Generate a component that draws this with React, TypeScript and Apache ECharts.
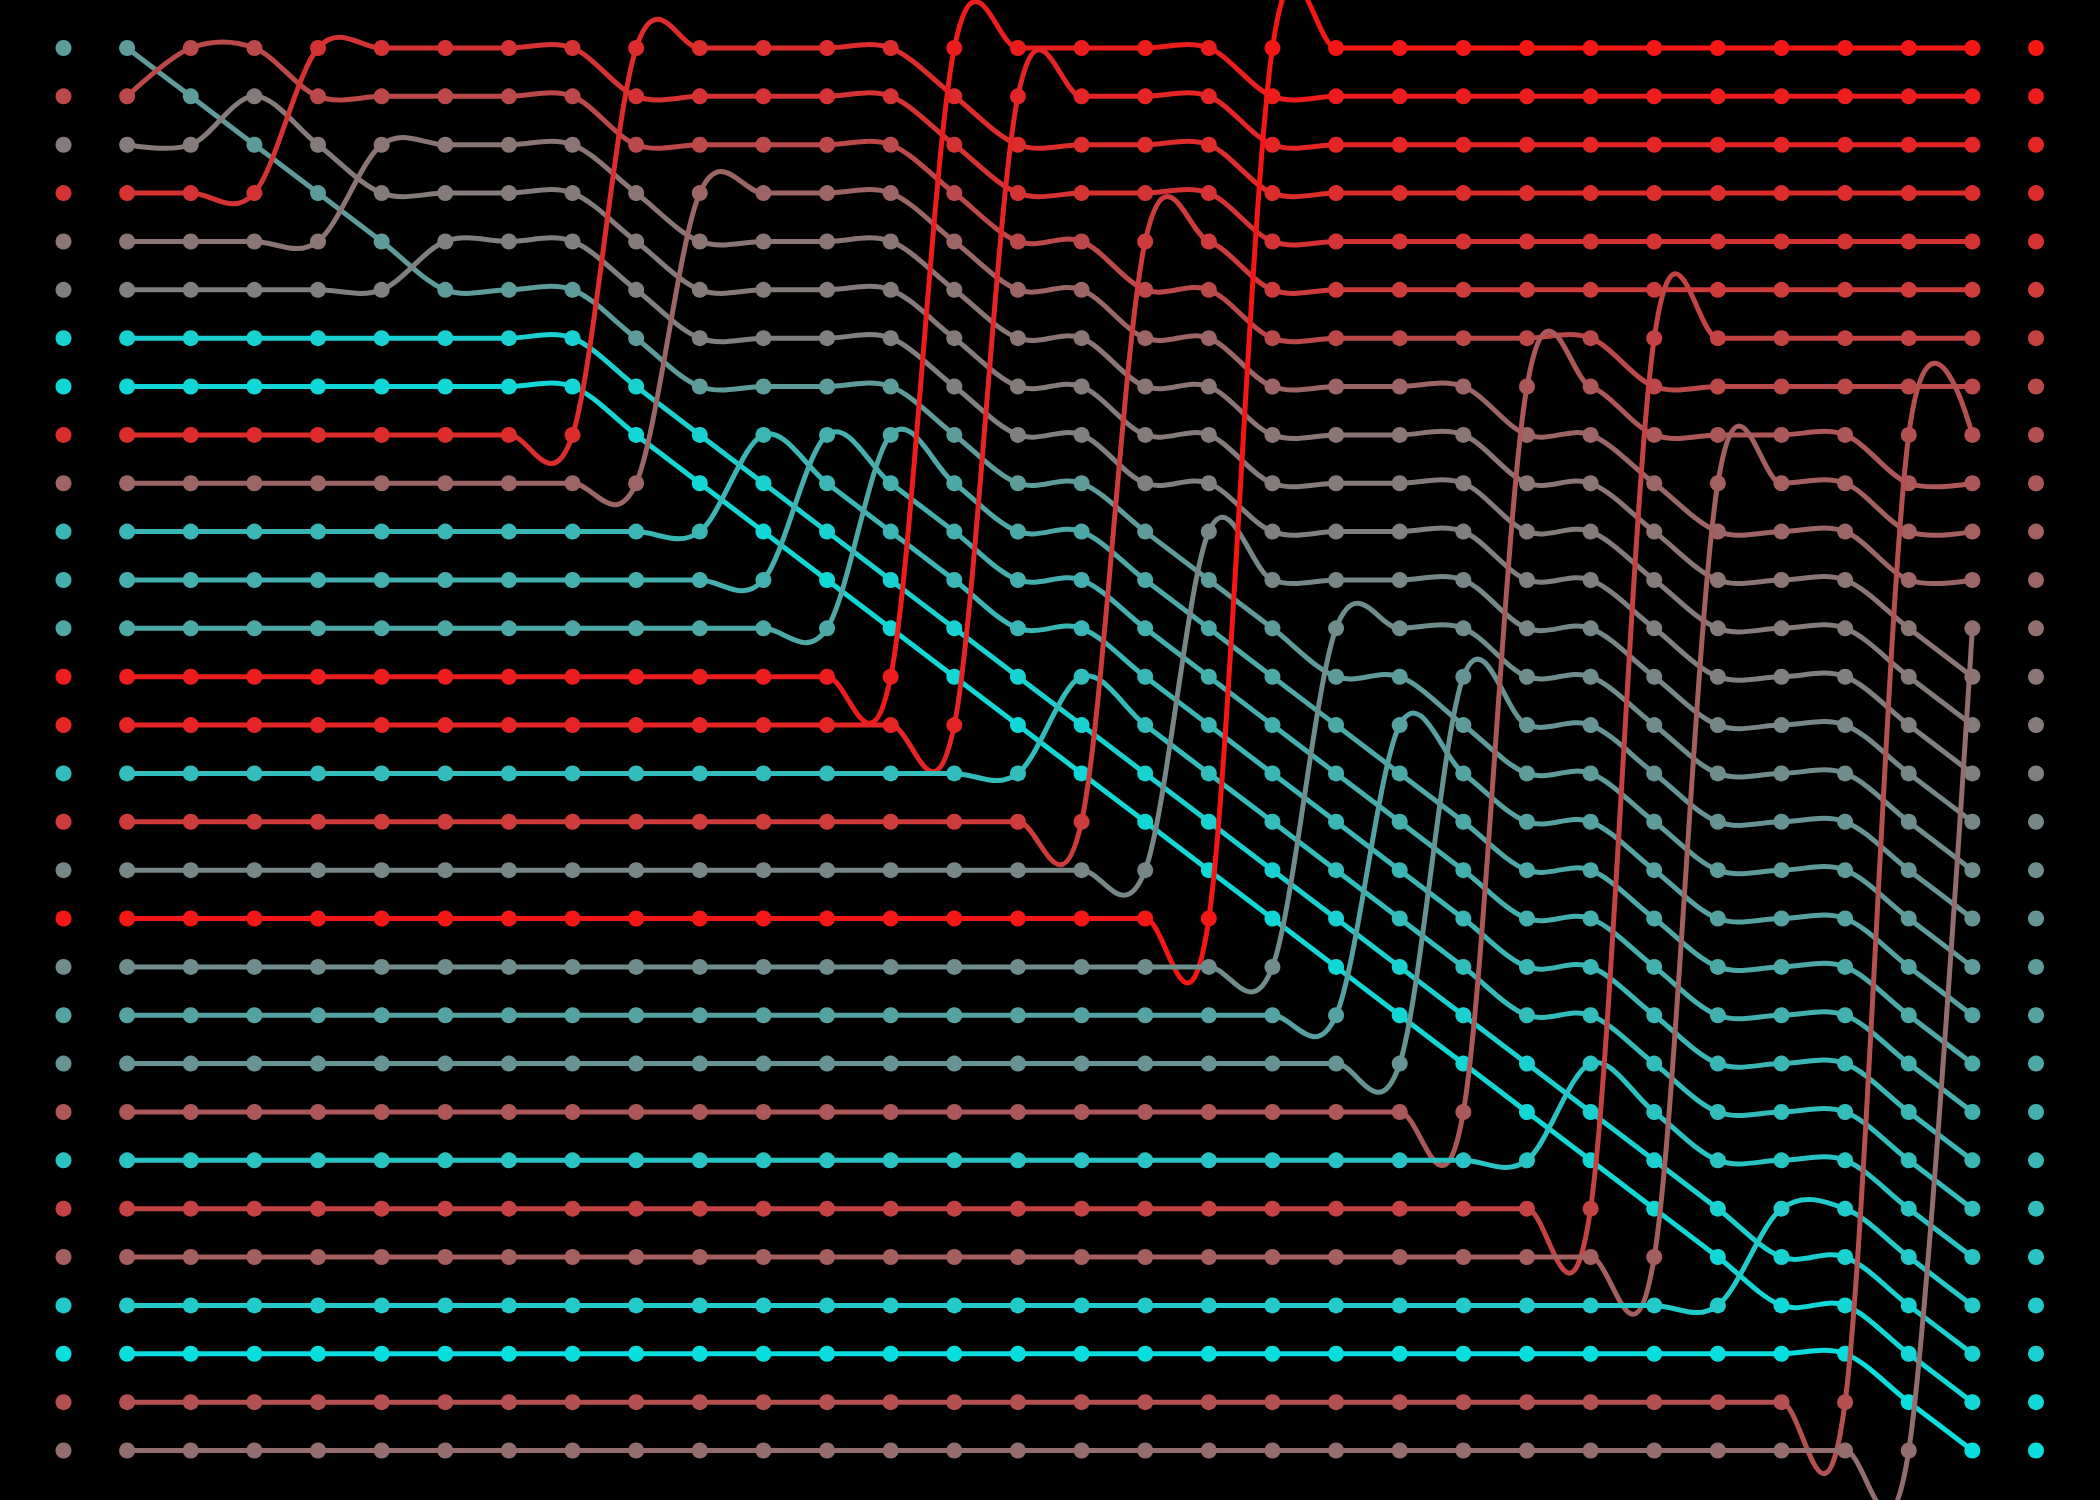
import React, { useEffect, useRef } from "react";
import * as echarts from "echarts";

// Key of each element, in its initial (unsorted) order; higher key sorts to the top.
const VALUES = [10, 22, 15, 25, 16, 14, 2, 1, 26, 18, 6, 7, 8, 28, 27, 5, 24, 13, 29, 12, 9, 11, 20, 4, 23, 19, 3, 0, 21, 17];

// Colour by final rank (0 = top, largest key).
const RANK_COLORS = [
  "#f51616", "#ed1d1d", "#e52525", "#dd2c2c", "#d53333", "#cd3b3b", "#c54242", "#bc4949",
  "#b45050", "#ac5858", "#a45f5f", "#9c6666", "#946e6e", "#8c7575", "#857b7b", "#808080",
  "#778787", "#6f8d8d", "#669494", "#5e9b9b", "#55a2a2", "#4da8a8", "#44afaf", "#3bb6b6",
  "#33bcbc", "#2ac3c3", "#22caca", "#19d1d1", "#11d7d7", "#08dede",
];

const N = VALUES.length;
const colorOf = (el: number) => RANK_COLORS[N - 1 - VALUES[el]];

// Insertion sort (descending), one snapshot per step.
function sortSnapshots(): number[][] {
  const snaps: number[][] = [];
  const list = VALUES.map((_, i) => i);
  snaps.push(list.slice());
  for (let k = 1; k < N; k++) {
    const key = list[k];
    let j = k;
    while (j > 0 && VALUES[list[j - 1]] < VALUES[key]) {
      list[j] = list[j - 1];
      j--;
    }
    list[j] = key;
    snaps.push(list.slice());
  }
  return snaps;
}

const SNAPSHOTS = sortSnapshots();
// ROW_OF[el][col] = row of element el at step col
const ROW_OF: number[][] = VALUES.map((_, el) => SNAPSHOTS.map((s) => s.indexOf(el)));

function cardinalPath(pts: number[][]): string {
  const n = pts.length;
  const k = 1 / 6;
  let d = `M${pts[0][0]},${pts[0][1]}`;
  for (let i = 0; i < n - 1; i++) {
    const p0 = i === 0 ? pts[1] : pts[i - 1];
    const p1 = pts[i];
    const p2 = pts[i + 1];
    const p3 = i + 2 < n ? pts[i + 2] : pts[n - 2];
    const c1x = p1[0] + k * (p2[0] - p0[0]);
    const c1y = p1[1] + k * (p2[1] - p0[1]);
    const c2x = p2[0] - k * (p3[0] - p1[0]);
    const c2y = p2[1] - k * (p3[1] - p1[1]);
    d += ` C${c1x},${c1y} ${c2x},${c2y} ${p2[0]},${p2[1]}`;
  }
  return d;
}

export default function App() {
  const ref = useRef<HTMLDivElement>(null);
  useEffect(() => {
    if (!ref.current) return;
    const chart = echarts.init(ref.current, null, { renderer: "svg" });
    const initialDots = SNAPSHOTS[0].map((el, row) => ({ value: [-1, row], itemStyle: { color: colorOf(el), opacity: 1 } }));
    const finalDots = SNAPSHOTS[N - 1].map((el, row) => ({ value: [N, row], itemStyle: { color: colorOf(el), opacity: 1 } }));
    chart.setOption({
      animation: false,
      backgroundColor: "#000000",
      grid: { left: 63.5, right: 64, top: 48, bottom: 49.5 },
      xAxis: { type: "value", min: -1, max: N, show: false, splitLine: { show: false } },
      yAxis: { type: "value", min: 0, max: N - 1, inverse: true, show: false, splitLine: { show: false } },
      series: [
        {
          type: "custom",
          coordinateSystem: "cartesian2d",
          data: VALUES.map((_, el) => [el]),
          encode: { x: 0 },
          renderItem: (params: any, api: any) => {
            const el = api.value(0) as number;
            const color = colorOf(el);
            const pts = ROW_OF[el].map((row, col) => api.coord([col, row]));
            const children: any[] = [
              {
                type: "path",
                shape: { pathData: cardinalPath(pts) },
                style: { stroke: color, lineWidth: 5, fill: "none" },
              },
            ];
            pts.forEach((p) => {
              children.push({ type: "circle", shape: { cx: p[0], cy: p[1], r: 8 }, style: { fill: color } });
            });
            return { type: "group", children };
          },
        },
        {
          type: "scatter",
          symbol: "circle",
          symbolSize: 16,
          itemStyle: { opacity: 1 },
          data: [...initialDots, ...finalDots],
        },
      ],
    });
    return () => chart.dispose();
  }, []);
  return (
    <div
      ref={ref}
      style={{ position: "fixed", left: 0, top: 0, width: 2100, height: 1500, background: "#000" }}
    />
  );
}
